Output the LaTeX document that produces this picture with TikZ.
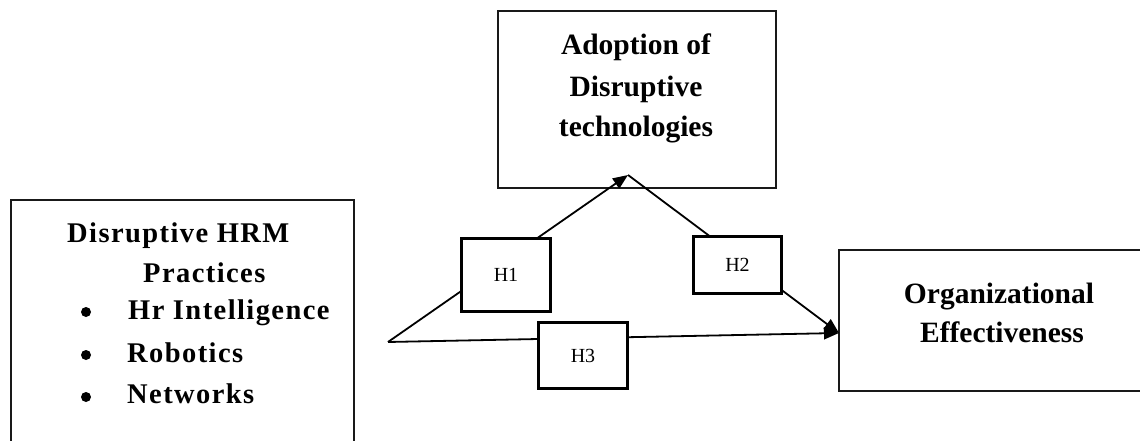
\documentclass[tikz,border=0pt]{standalone}
\usepackage{fontspec}
\setmainfont{Liberation Serif}
\newfontfamily\spaced[LetterSpace=5]{Liberation Serif}
\usetikzlibrary{arrows.meta}
\begin{document}
\begin{tikzpicture}[x=1pt,y=-1pt,
 frame/.style={draw=black!90, line width=1.1pt, inner sep=0pt},
 hbox/.style={draw, line width=3pt, fill=white, inner sep=0pt, font=\fontsize{20}{22}\selectfont},
 conn/.style={line width=1.8pt},
 tip/.style={-{Triangle[length=15pt,width=12pt]}},
 big/.style={font=\fontsize{29.5}{40}\selectfont\bfseries, anchor=base, inner sep=0pt},
 lft/.style={font=\spaced\fontsize{28.5}{40}\selectfont\bfseries, anchor=base west, inner sep=0pt},
 dot/.style={circle, fill=black, minimum size=10pt, inner sep=0pt},
]
\useasboundingbox (0,0) rectangle (1140,441);
\clip (0,0) rectangle (1140,441);
% main boxes
\node[frame, minimum width=343pt, minimum height=270pt] (hrm) at (182.5,335) {};
\node[frame, minimum width=278pt, minimum height=177pt] (adopt) at (637,99.5) {};
\node[frame, minimum width=330pt, minimum height=141pt] (org) at (1004,320.5) {};
% texts
\node[lft] (l1) at (67,242) {Disruptive HRM};
\node[lft] (l2) at (143,282) {Practices};
\node[lft] (l3) at (128,319) {Hr Intelligence};
\node[lft] (l4) at (127,362) {Robotics};
\node[lft] (l5) at (127,403) {Networks};
\node[dot] (b1) at (86,312) {};
\node[dot] (b2) at (86,355) {};
\node[dot] (b3) at (86,397) {};
\node[big] (a1) at (636,55) {Adoption of};
\node[big] (a2) at (636,97) {Disruptive};
\node[big] (a3) at (636,137) {technologies};
\node[big] (o1) at (999,303) {Organizational};
\node[big] (o2) at (1002,342) {Effectiveness};
% connectors
\coordinate (s) at (388,342);
\coordinate (t1) at (628,175);
\coordinate (t2) at (839,333);
\draw[conn,tip] (s) -- (t1);
\draw[conn,tip] (t1) -- (t2);
\draw[conn,tip] (s) -- (t2);
% hypothesis boxes
\node[hbox, minimum width=89pt, minimum height=73pt] (h1) at (506,275) {H1};
\node[hbox, minimum width=88pt, minimum height=57pt] (h2) at (737.5,265) {H2};
\node[hbox, minimum width=89pt, minimum height=66pt] (h3) at (583,355.5) {H3};
\end{tikzpicture}
\end{document}
